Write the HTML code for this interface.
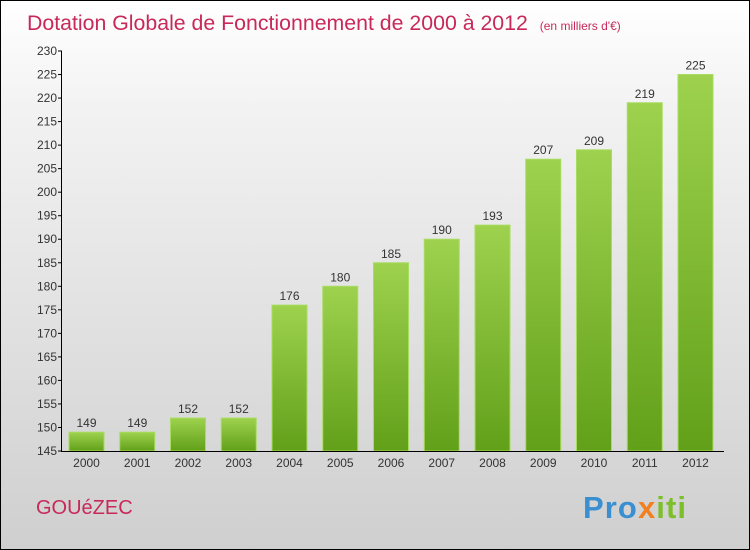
<!DOCTYPE html>
<html><head><meta charset="utf-8"><style>
body{margin:0}
#c{position:relative;width:748px;height:548px;border:1px solid #000;background:linear-gradient(#ffffff,#f2f2f2 20%,#cfcfcf);font-family:"Liberation Sans",sans-serif;overflow:hidden}
</style></head><body>
<div id="c">
<svg width="748" height="548" xmlns="http://www.w3.org/2000/svg">
<defs><linearGradient id="g" x1="0" y1="0" x2="0" y2="1"><stop offset="0" stop-color="#9ed24e"/><stop offset="1" stop-color="#62a01a"/></linearGradient></defs>
<text x="26" y="29" font-size="21.3" fill="#c8295a">Dotation Globale de Fonctionnement de 2000 à 2012 <tspan font-size="12" dx="6">(en milliers d'€)</tspan></text>
<text x="35" y="513" font-size="20" fill="#c8295a">GOUéZEC</text>
<text x="582" y="517" font-size="31" font-weight="bold" fill="#3a8fd0" textLength="103">Pro<tspan fill="#f08020">x</tspan><tspan fill="#7cbf2a">iti</tspan></text>
<g id="plot"></g>
</svg></div>
<script>
const years=["2000","2001","2002","2003","2004","2005","2006","2007","2008","2009","2010","2011","2012"];
const values=[149,149,152,152,176,180,185,190,193,207,209,219,225];
const ticks=[145,150,155,160,165,170,175,180,185,190,195,200,205,210,215,220,225,230];
const ns="http://www.w3.org/2000/svg",g=document.getElementById('plot');
const y=v=>450-(v-145)*400/85, x=i=>85.5+i*50.75;
function mk(t,a){const e=document.createElementNS(ns,t);for(const k in a)e.setAttribute(k,a[k]);g.appendChild(e);return e;}
values.forEach((v,i)=>{
 const r=mk('rect',{x:x(i)-17.5,y:y(v),width:35,height:450-y(v),fill:'url(#g)',stroke:'#a8dc60','stroke-width':1});
 
 
 const t=mk('text',{x:x(i),y:y(v)-5,'text-anchor':'middle','font-size':12,fill:'#333'});t.textContent=v;
 
 
 const l=mk('text',{x:x(i),y:466,'text-anchor':'middle','font-size':12,fill:'#333'});l.textContent=years[i];
 
 
});
ticks.forEach(v=>{
 mk('line',{x1:57,x2:61,y1:y(v),y2:y(v),stroke:'#000'});
 const t=mk('text',{x:56,y:y(v)+4,'text-anchor':'end','font-size':12,fill:'#333'});t.textContent=v;
 
 
});
const ya=mk('line',{x1:60.5,x2:60.5,y1:50,y2:450,stroke:'#000'});


const xa=mk('line',{x1:60,x2:723,y1:450.5,y2:450.5,stroke:'#000'});


</script>
</body></html>
